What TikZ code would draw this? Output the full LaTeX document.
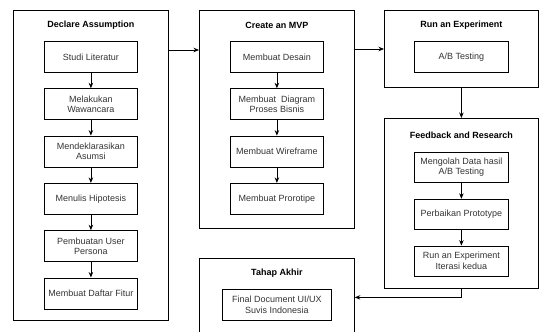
\documentclass[tikz,border=0pt]{standalone}
\usepackage{fontspec}
\setmainfont{Liberation Sans}
\usetikzlibrary{arrows.meta, positioning}

\begin{document}
\begin{tikzpicture}[
    x=1pt, y=1pt,
    node distance=15.5pt,
    phase/.style={rectangle, draw, line width=0.8pt, anchor=north west, inner sep=0pt},
    title/.style={font=\fontsize{9}{11}\selectfont\bfseries},
    stepbox/.style={rectangle, draw, line width=0.8pt, minimum width=93pt, minimum height=31pt, align=center, inner sep=1pt, text=black!80, font=\fontsize{9}{10.5}\selectfont},
    flow/.style={-{Stealth[length=5.5pt, width=4.5pt]}, line width=0.8pt}
]
\clip (0,0) rectangle (539,-332);

% Phases
\node[phase, minimum width=155pt, minimum height=310pt] (da) at (13,-10) {};
\node[phase, minimum width=155pt, minimum height=218pt] (mvp) at (199,-10) {};
\node[phase, minimum width=154pt, minimum height=77pt] (run) at (384,-10) {};
\node[phase, minimum width=154pt, minimum height=170pt] (fb) at (384,-118) {};
\node[phase, minimum width=155pt, minimum height=78pt] (akhir) at (199,-258) {};

% Titles
\node[title] (da-title) at ([yshift=-15pt]da.north) {Declare Assumption};
\node[title] (mvp-title) at ([yshift=-15pt]mvp.north) {Create an MVP};
\node[title] (run-title) at ([yshift=-15pt]run.north) {Run an Experiment};
\node[title] (fb-title) at ([yshift=-17pt]fb.north) {Feedback and Research};
\node[title] (akhir-title) at ([yshift=-15pt]akhir.north) {Tahap Akhir};

% Declare Assumption steps
\node[stepbox, below=31pt of da.north] (studi) {Studi Literatur};
\node[stepbox, below=of studi] (wawancara) {Melakukan\\Wawancara};
\node[stepbox, below=of wawancara] (asumsi) {Mendeklarasikan\\Asumsi};
\node[stepbox, below=of asumsi] (hipotesis) {Menulis Hipotesis};
\node[stepbox, below=of hipotesis] (persona) {Pembuatan User\\Persona};
\node[stepbox, below=of persona] (fitur) {Membuat Daftar Fitur};

% Create an MVP steps
\node[stepbox, below=31pt of mvp.north] (desain) {Membuat Desain};
\node[stepbox, below=of desain] (bisnis) {Membuat\ \ Diagram\\Proses Bisnis};
\node[stepbox, below=of bisnis] (wireframe) {Membuat Wireframe};
\node[stepbox, below=of wireframe] (prototipe) {Membuat Prorotipe};

% Run an Experiment step
\node[stepbox, minimum width=94pt, below=31pt of run.north] (abtest) {A/B Testing};

% Feedback and Research steps
\node[stepbox, minimum width=94pt, minimum height=30pt, below=34pt of fb.north] (olah) {Mengolah Data hasil\\A/B Testing};
\node[stepbox, minimum width=94pt, minimum height=30pt, below=16pt of olah] (perbaikan) {Perbaikan Prototype};
\node[stepbox, minimum width=94pt, minimum height=30pt, below=16pt of perbaikan] (iterasi) {Run an Experiment\\Iterasi kedua};

% Tahap Akhir step
\node[stepbox, minimum width=109pt, below=31pt of akhir.north] (final) {Final Document UI/UX\\Suvis Indonesia};

% Arrows inside phases
\draw[flow] (studi) -- (wawancara);
\draw[flow] (wawancara) -- (asumsi);
\draw[flow] (asumsi) -- (hipotesis);
\draw[flow] (hipotesis) -- (persona);
\draw[flow] (persona) -- (fitur);
\draw[flow] (desain) -- (bisnis);
\draw[flow] (bisnis) -- (wireframe);
\draw[flow] (wireframe) -- (prototipe);
\draw[flow] (olah) -- (perbaikan);
\draw[flow] (perbaikan) -- (iterasi);

% Arrows between phases
\draw[flow] ([yshift=-40pt]da.north east) -- ([yshift=-40pt]mvp.north west);
\draw[flow] ([yshift=-39pt]mvp.north east) -- ([yshift=-39pt]run.north west);
\draw[flow] (run.south) -- (fb.north);
\draw[flow] (fb.south) |- (akhir.east);

\end{tikzpicture}
\end{document}
